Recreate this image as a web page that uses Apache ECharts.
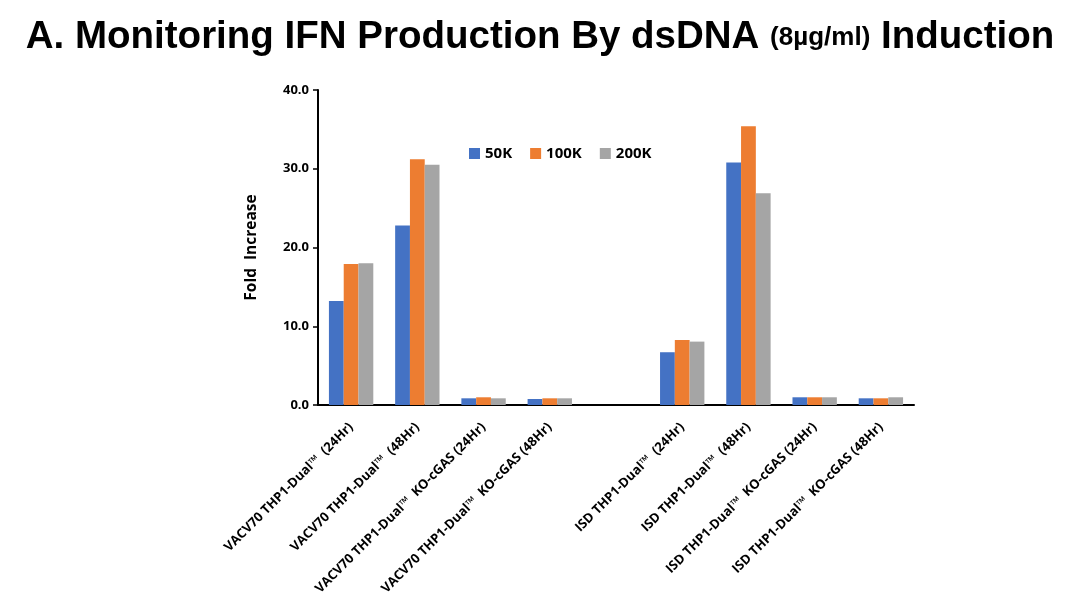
<!DOCTYPE html>
<html><head><meta charset="utf-8">
<script src="https://cdn.jsdelivr.net/npm/echarts@6/dist/echarts.min.js"></script>
<style>html,body{margin:0;padding:0;background:#fff}#c{width:1080px;height:603px}</style>
</head><body><div id="c"></div>
<script>
const categories = [
  'VACV70 THP1-Dual™  (24Hr)',
  'VACV70 THP1-Dual™  (48Hr)',
  'VACV70 THP1-Dual™  KO-cGAS (24Hr)',
  'VACV70 THP1-Dual™  KO-cGAS (48Hr)',
  '',
  'ISD THP1-Dual™  (24Hr)',
  'ISD THP1-Dual™  (48Hr)',
  'ISD THP1-Dual™  KO-cGAS (24Hr)',
  'ISD THP1-Dual™  KO-cGAS (48Hr)'
];
const seriesNames = ['50K', '100K', '200K'];
const values50K  = [13.2, 22.8, 0.85, 0.76, null, 6.7, 30.8, 0.98, 0.85];
const values100K = [17.9, 31.2, 0.98, 0.85, null, 8.25, 35.4, 0.98, 0.85];
const values200K = [18.0, 30.5, 0.85, 0.85, null, 8.05, 26.9, 0.98, 0.98];
const colors = ['#4472C4', '#ED7D31', '#A5A5A5'];
const yTicks = [0, 10, 20, 30, 40];

const chart = echarts.init(document.getElementById('c'));
const font = '"Open Sans", Lato, sans-serif';
chart.setOption({
  animation: false,
  title: {
    text: '{a|A. Monitoring IFN Production By dsDNA }{b|(8µg/ml)}{a| Induction}',
    left: 'center', top: 13,
    textStyle: {
      rich: {
        a: { fontFamily: 'Liberation Sans, Arial, sans-serif', fontWeight: 'bold', fontSize: 38.5, color: '#000' },
        b: { fontFamily: 'Liberation Sans, Arial, sans-serif', fontWeight: 'bold', fontSize: 26, color: '#000' }
      }
    }
  },
  legend: {
    data: seriesNames, left: 464, top: 141, icon: 'rect', itemWidth: 11, itemHeight: 11, itemGap: 18,
    textStyle: { fontFamily: font, fontWeight: 'bold', fontSize: 15, color: '#000' }
  },
  grid: { left: 318, right: 166, top: 90, bottom: 198 },
  xAxis: {
    type: 'category', data: categories,
    axisLine: { lineStyle: { color: '#000', width: 2 } },
    axisTick: { show: false },
    axisLabel: { rotate: 45, interval: 0, margin: 20, fontFamily: font, fontWeight: 'bold', fontSize: 13, color: '#000' }
  },
  yAxis: {
    type: 'value', min: 0, max: 40, interval: 10,
    name: 'Fold  Increase', nameLocation: 'middle', nameGap: 58,
    nameTextStyle: { fontFamily: font, fontWeight: 'bold', fontSize: 15.5, color: '#000' },
    axisLine: { show: true, lineStyle: { color: '#000', width: 2 } },
    axisTick: { show: true, length: 5, lineStyle: { color: '#000', width: 1.5 } },
    splitLine: { show: false },
    axisLabel: { fontFamily: font, fontWeight: 'bold', fontSize: 13, color: '#000', margin: 9,
      formatter: v => yTicks.includes(v) ? v.toFixed(1) : '' }
  },
  series: [values50K, values100K, values200K].map((d, i) => ({
    name: seriesNames[i], type: 'bar', data: d, barGap: '0%', barCategoryGap: '33%',
    itemStyle: { color: colors[i] }
  }))
});
</script></body></html>
